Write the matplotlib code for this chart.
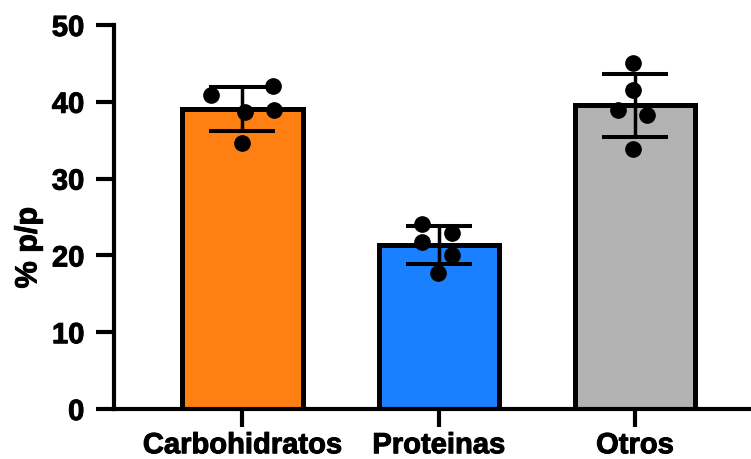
import numpy as np
import matplotlib
matplotlib.use("Agg")
import matplotlib.pyplot as plt
import matplotlib.patheffects as pe

# Composition values (% p/p) for each replicate
categories = ["Carbohidratos", "Proteinas", "Otros"]
carbohidratos = [40.9, 42.1, 38.7, 38.9, 34.6]
proteinas = [24.1, 21.8, 22.9, 20.1, 17.7]
otros = [45.0, 41.6, 38.9, 38.3, 33.9]
yticks = [0, 10, 20, 30, 40, 50]

groups = [carbohidratos, proteinas, otros]
means = [np.mean(g) for g in groups]
sds = [np.std(g, ddof=1) for g in groups]

colors = ["#FF8012", "#1A80FF", "#B3B3B3"]
# horizontal spread of the replicate dots within each bar
spread = [[-0.158, 0.155, 0.013, 0.163, 0.0],
          [-0.085, -0.085, 0.068, 0.068, -0.005],
          [-0.01, -0.01, -0.087, 0.062, -0.01]]

plt.rcParams["font.family"] = ["Liberation Sans", "DejaVu Sans"]
plt.rcParams["font.weight"] = "bold"

W, H = 751, 459
fig = plt.figure(figsize=(W / 100, H / 100), dpi=100)
ax = fig.add_axes([113.5 / W, (H - 409) / H, (W - 113.5) / W, 384 / H])

lw = 3.0
x = np.arange(len(categories))
ax.bar(x, means, width=0.612, color=colors, edgecolor="black",
       linewidth=3.6, zorder=2)
ax.errorbar(x, means, yerr=sds, fmt="none", ecolor="black",
            elinewidth=2.5, capsize=24, capthick=2.9, zorder=3)
for i, g in enumerate(groups):
    ax.plot(x[i] + np.array(spread[i]), g, "o", color="black",
            markersize=11, zorder=4, clip_on=False)

ax.set_xlim(-0.657, 2.591)
ax.set_ylim(0, 50)
ax.set_yticks(yticks)
ax.set_xticks(x)
ax.set_xticklabels(categories)

for s in ["top", "right"]:
    ax.spines[s].set_visible(False)
for s in ["left", "bottom"]:
    ax.spines[s].set_linewidth(lw)
    ax.spines[s].set_zorder(5)

ax.tick_params(axis="both", length=13, width=lw, labelsize=21, color="black")
ax.tick_params(axis="y", pad=8)
ax.tick_params(axis="x", pad=3)
heavy = [pe.withStroke(linewidth=0.7, foreground="black")]
for lab in ax.get_xticklabels() + ax.get_yticklabels():
    lab.set_fontweight("bold")
    lab.set_path_effects(heavy)

ylab = ax.set_ylabel("% p/p", fontsize=22, fontweight="bold")
ylab.set_path_effects(heavy)
ax.yaxis.set_label_coords(-0.11, 0.42)

fig.savefig("out.png", dpi=100)
